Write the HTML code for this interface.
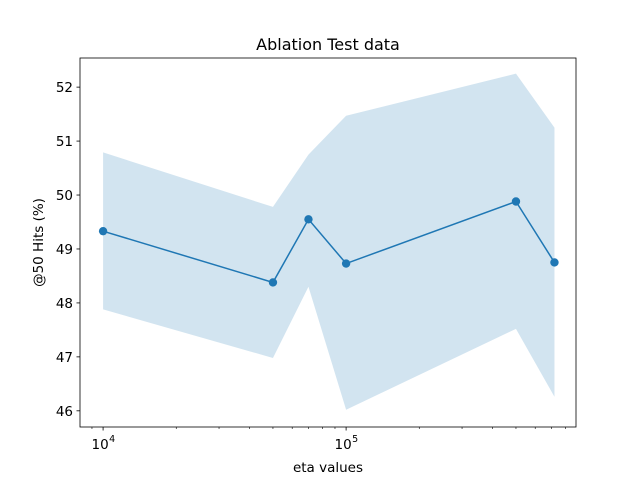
<!DOCTYPE html>
<html><head><meta charset="utf-8"><style>
body{margin:0;background:#fff}
text{font-family:"DejaVu Sans","Liberation Sans",sans-serif;fill:#000}
</style></head><body>
<svg id="chart" width="640" height="480" xmlns="http://www.w3.org/2000/svg"></svg>
<script>
const xValues=[10000,50000,70000,100000,500000,720000];
const meanValues=[49.33,48.38,49.55,48.73,49.88,48.75];
const upperValues=[50.79,49.78,50.75,51.47,52.25,51.25];
const lowerValues=[47.88,46.98,48.30,46.02,47.52,46.26];
const yTicks=[46,47,48,49,50,51,52];
const xMajorTicks=[10000,100000];
const xMajorLabels=["4","5"];

const L=80,R=576,T=58,B=427;
const xmin=3.905,xmax=5.946,ymin=45.70,ymax=52.54;
const sx=v=>L+(Math.log10(v)-xmin)/(xmax-xmin)*(R-L);
const sy=v=>B-(v-ymin)/(ymax-ymin)*(B-T);
const svg=document.getElementById('chart');
const NS="http://www.w3.org/2000/svg";
function mk(tag,attrs,parent){const e=document.createElementNS(NS,tag);for(const k in attrs)e.setAttribute(k,attrs[k]);(parent||svg).appendChild(e);return e;}

let d="M"+xValues.map((x,i)=>sx(x)+","+sy(upperValues[i])).join("L");
for(let i=xValues.length-1;i>=0;i--)d+="L"+sx(xValues[i])+","+sy(lowerValues[i]);
const band=mk('path',{d:d+"Z",fill:"#1f77b4","fill-opacity":0.2,stroke:"none"});



const line=mk('polyline',{points:xValues.map((x,i)=>sx(x)+","+sy(meanValues[i])).join(" "),fill:"none",stroke:"#1f77b4","stroke-width":1.5});


xValues.forEach((x,i)=>{
  const c=mk('circle',{cx:sx(x),cy:sy(meanValues[i]),r:4.2,fill:"#1f77b4"});
  
  
});

const frame=mk('rect',{x:L,y:T,width:R-L,height:B-T,fill:"none",stroke:"#000","stroke-width":0.8});



yTicks.forEach(v=>{
  const y=sy(v);
  mk('line',{x1:L-3.5,x2:L,y1:y,y2:y,stroke:"#000","stroke-width":0.8});
  const t=mk('text',{x:L-7,y:y+5,"text-anchor":"end","font-size":13.5});
  t.textContent=v;
  
  
});
for(let dec=3;dec<=5;dec++)for(let m=2;m<=9;m++){
  const v=m*Math.pow(10,dec);
  const lx=Math.log10(v);
  if(lx<xmin||lx>xmax)continue;
  mk('line',{x1:sx(v),x2:sx(v),y1:B,y2:B+2,stroke:"#000","stroke-width":0.6});
}
xMajorTicks.forEach((v,i)=>{
  const x=sx(v);
  mk('line',{x1:x,x2:x,y1:B,y2:B+3.5,stroke:"#000","stroke-width":0.8});
  const t=mk('text',{x:x-3,y:B+22,"text-anchor":"middle","font-size":13.5});
  t.textContent="10";
  
  
  const s=mk('text',{x:x+6,y:B+15,"text-anchor":"start","font-size":9.5});
  s.textContent=xMajorLabels[i];
});

const title=mk('text',{x:(L+R)/2,y:T-8,"text-anchor":"middle","font-size":16});
title.textContent="Ablation Test data";


const xt=mk('text',{x:(L+R)/2,y:472,"text-anchor":"middle","font-size":13.5});
xt.textContent="eta values";


const yt=mk('text',{x:0,y:0,"text-anchor":"middle","font-size":13.5,transform:"translate(43,"+((T+B)/2)+") rotate(-90)"});
yt.textContent="@50 Hits (%)";


</script>
</body></html>
